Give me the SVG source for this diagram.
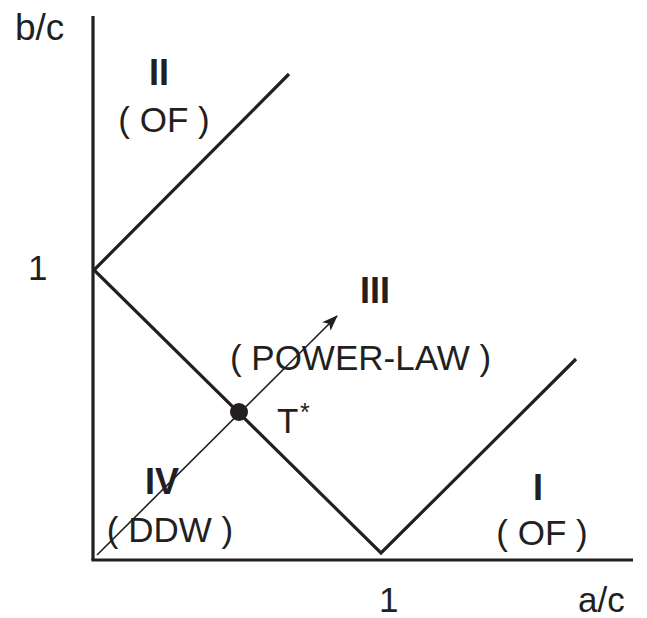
<svg xmlns="http://www.w3.org/2000/svg" width="647" height="618" viewBox="0 0 647 618">
<style>
text{font-family:"Liberation Sans",Arial,sans-serif;fill:#231f20;font-size:35px}
.b{font-weight:bold;font-size:36px}
.axis{stroke:#231f20;stroke-width:3.2;fill:none}
.bd{stroke:#231f20;stroke-width:3.2;fill:none}
.thin{stroke:#231f20;stroke-width:1.6;fill:none}
</style>
<defs>
<marker id="ah" markerWidth="16" markerHeight="12" refX="15" refY="6" orient="auto" markerUnits="userSpaceOnUse" viewBox="0 0 16 12">
<path d="M0,0 L16,6 L0,12 L4,6 Z" fill="#231f20"/>
</marker>
</defs>
<rect width="647" height="618" fill="#fff"/>
<g id="connectors">
<line class="axis" x1="93" y1="16" x2="93" y2="560"/>
<line class="axis" x1="91.4" y1="560" x2="633" y2="560"/>
<polyline class="bd" points="289,74 94,270 381,553 576,359"/>
<line class="thin" x1="97" y1="555" x2="337" y2="316" marker-end="url(#ah)"/>
</g>
<g id="tstar">
<circle cx="239" cy="412" r="9" fill="#231f20"/>
<text x="277" y="433">T</text>
<text x="300" y="421" style="font-size:25px">*</text>
</g>
<g id="axis-labels">
<text x="15" y="40" style="font-size:37px">b/c</text>
<text x="28" y="280">1</text>
<text x="379" y="612">1</text>
<text x="578" y="612">a/c</text>
</g>
<g id="region-II">
<text class="b" x="159" y="85" text-anchor="middle">II</text>
<text x="164" y="132" text-anchor="middle">( OF )</text>
</g>
<g id="region-III">
<text class="b" x="375" y="303" text-anchor="middle">III</text>
<text x="360.5" y="370" text-anchor="middle">( POWER-LAW )</text>
</g>
<g id="region-IV">
<text class="b" x="162" y="494" text-anchor="middle">IV</text>
<text x="170" y="542" text-anchor="middle">( DDW )</text>
</g>
<g id="region-I">
<text class="b" x="538" y="500" text-anchor="middle">I</text>
<text x="542" y="545" text-anchor="middle">( OF )</text>
</g>
</svg>
